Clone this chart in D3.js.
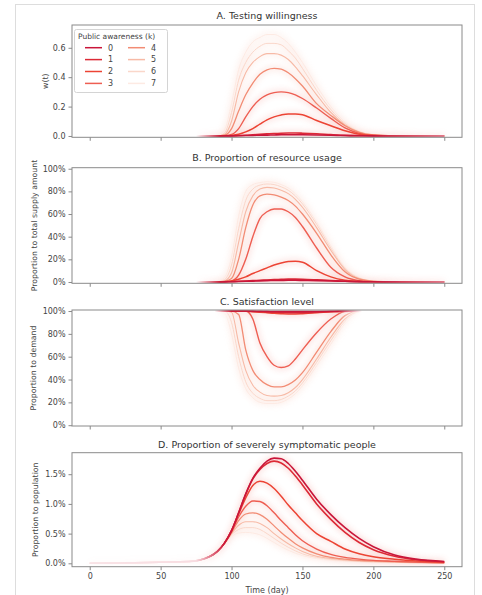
<!DOCTYPE html>
<html>
<head>
<meta charset="utf-8">
<script src="https://cdn.jsdelivr.net/npm/d3@7"></script>
<style>
  body { margin: 0; background: #fff; }
  svg { font-family: "DejaVu Sans", sans-serif; }
</style>
</head>
<body>
<svg id="chart" width="482" height="595"></svg>
<script>
// sample days shared by every series
const days = [0, 70, 85, 90, 95, 100, 105, 110, 115, 120, 125, 130, 135, 140, 145, 150, 160, 170, 180, 190, 200, 215, 230, 250];
const awareness = [0, 1, 2, 3, 4, 5, 6, 7];

// A. testing willingness w(t), one row per k
const willingness = [
  [0, 0, 0, 0, 0, 0.001, 0.002, 0.003, 0.004, 0.005, 0.006, 0.007, 0.008, 0.008, 0.008, 0.008, 0.007, 0.005, 0.003, 0.002, 0.001, 0, 0, 0],
  [0, 0, 0, 0, 0, 0.001, 0.003, 0.005, 0.008, 0.011, 0.014, 0.017, 0.019, 0.02, 0.02, 0.019, 0.015, 0.009, 0.004, 0.002, 0.001, 0, 0, 0],
  [0, 0, 0, 0, 0.001, 0.004, 0.012, 0.028, 0.05, 0.08, 0.11, 0.13, 0.143, 0.15, 0.15, 0.145, 0.105, 0.07, 0.035, 0.012, 0.004, 0.001, 0, 0],
  [0, 0, 0, 0, 0.002, 0.01, 0.05, 0.13, 0.2, 0.25, 0.28, 0.295, 0.3, 0.295, 0.28, 0.255, 0.19, 0.12, 0.055, 0.018, 0.005, 0.001, 0, 0],
  [0, 0, 0, 0, 0.005, 0.05, 0.17, 0.28, 0.36, 0.42, 0.45, 0.46, 0.455, 0.43, 0.39, 0.34, 0.22, 0.14, 0.07, 0.025, 0.007, 0.001, 0, 0],
  [0, 0, 0, 0, 0.01, 0.1, 0.3, 0.43, 0.5, 0.54, 0.56, 0.56, 0.55, 0.52, 0.47, 0.41, 0.28, 0.16, 0.075, 0.027, 0.008, 0.001, 0, 0],
  [0, 0, 0, 0, 0.02, 0.16, 0.38, 0.5, 0.57, 0.61, 0.63, 0.63, 0.62, 0.58, 0.53, 0.46, 0.31, 0.18, 0.085, 0.03, 0.009, 0.001, 0, 0],
  [0, 0, 0, 0.005, 0.04, 0.22, 0.45, 0.57, 0.64, 0.67, 0.69, 0.69, 0.67, 0.63, 0.57, 0.5, 0.34, 0.2, 0.095, 0.035, 0.01, 0.002, 0, 0]
];

// B. proportion of resource usage
const resourceUsage = [
  [0, 0, 0, 0, 0.001, 0.002, 0.004, 0.006, 0.008, 0.01, 0.012, 0.013, 0.014, 0.015, 0.015, 0.014, 0.012, 0.009, 0.006, 0.003, 0.002, 0.001, 0, 0],
  [0, 0, 0, 0, 0.001, 0.003, 0.006, 0.009, 0.012, 0.015, 0.018, 0.021, 0.023, 0.025, 0.025, 0.024, 0.019, 0.013, 0.007, 0.003, 0.002, 0.001, 0, 0],
  [0, 0, 0, 0, 0.002, 0.01, 0.025, 0.045, 0.075, 0.1, 0.125, 0.15, 0.168, 0.18, 0.183, 0.175, 0.1, 0.045, 0.015, 0.005, 0.002, 0, 0, 0],
  [0, 0, 0, 0, 0.002, 0.01, 0.06, 0.2, 0.4, 0.56, 0.62, 0.645, 0.645, 0.62, 0.57, 0.49, 0.3, 0.13, 0.045, 0.012, 0.003, 0, 0, 0],
  [0, 0, 0, 0, 0.005, 0.03, 0.2, 0.48, 0.68, 0.76, 0.775, 0.77, 0.75, 0.72, 0.67, 0.6, 0.43, 0.24, 0.09, 0.025, 0.006, 0.001, 0, 0],
  [0, 0, 0, 0, 0.01, 0.08, 0.35, 0.62, 0.76, 0.82, 0.835, 0.83, 0.81, 0.78, 0.73, 0.66, 0.48, 0.28, 0.11, 0.03, 0.008, 0.001, 0, 0],
  [0, 0, 0, 0.002, 0.02, 0.15, 0.47, 0.72, 0.82, 0.855, 0.865, 0.86, 0.84, 0.81, 0.76, 0.69, 0.51, 0.3, 0.12, 0.035, 0.009, 0.001, 0, 0],
  [0, 0, 0, 0.005, 0.04, 0.22, 0.58, 0.8, 0.86, 0.877, 0.885, 0.88, 0.86, 0.83, 0.78, 0.71, 0.53, 0.32, 0.13, 0.04, 0.01, 0.002, 0, 0]
];

// C. satisfaction level
const satisfaction = [
  [1, 1, 1, 1, 1, 1, 1, 1, 0.999, 0.998, 0.997, 0.996, 0.995, 0.995, 0.995, 0.995, 0.996, 0.998, 0.999, 1, 1, 1, 1, 1],
  [1, 1, 1, 1, 1, 1, 1, 0.999, 0.997, 0.995, 0.992, 0.99, 0.988, 0.986, 0.985, 0.986, 0.99, 0.995, 0.999, 1, 1, 1, 1, 1],
  [1, 1, 1, 1, 1, 1, 1, 0.998, 0.994, 0.99, 0.985, 0.98, 0.977, 0.975, 0.975, 0.977, 0.984, 0.993, 0.999, 1, 1, 1, 1, 1],
  [1, 1, 1, 1, 1, 1, 1, 1, 0.93, 0.72, 0.6, 0.525, 0.505, 0.52, 0.58, 0.66, 0.81, 0.93, 0.995, 1, 1, 1, 1, 1],
  [1, 1, 1, 1, 1, 1, 0.97, 0.66, 0.48, 0.4, 0.355, 0.335, 0.335, 0.355, 0.395, 0.46, 0.64, 0.82, 0.96, 1, 1, 1, 1, 1],
  [1, 1, 1, 1, 1, 0.99, 0.72, 0.48, 0.35, 0.29, 0.26, 0.255, 0.26, 0.285, 0.33, 0.4, 0.58, 0.77, 0.93, 0.995, 1, 1, 1, 1],
  [1, 1, 1, 1, 1, 0.9, 0.6, 0.38, 0.28, 0.235, 0.215, 0.215, 0.225, 0.255, 0.3, 0.37, 0.55, 0.74, 0.91, 0.99, 1, 1, 1, 1],
  [1, 1, 1, 1, 0.98, 0.8, 0.5, 0.32, 0.24, 0.2, 0.19, 0.19, 0.2, 0.23, 0.275, 0.345, 0.52, 0.71, 0.89, 0.98, 1, 1, 1, 1]
];

// D. proportion of severely symptomatic people
const severe = [
  [0, 0.0003, 0.0012, 0.002, 0.0034, 0.0055, 0.0085, 0.0117, 0.0143, 0.016, 0.0172, 0.0177, 0.0176, 0.0168, 0.0155, 0.014, 0.0108, 0.0082, 0.006, 0.0042, 0.0028, 0.0014, 0.0007, 0.0003],
  [0, 0.0003, 0.0012, 0.002, 0.0034, 0.0055, 0.0085, 0.0116, 0.0142, 0.0158, 0.0168, 0.0172, 0.0169, 0.016, 0.0147, 0.0132, 0.01, 0.0074, 0.0052, 0.0035, 0.0023, 0.0012, 0.0006, 0.00025],
  [0, 0.0003, 0.0012, 0.002, 0.0034, 0.0055, 0.0083, 0.011, 0.0131, 0.0138, 0.0135, 0.0126, 0.0113, 0.0098, 0.0085, 0.0072, 0.005, 0.0037, 0.0024, 0.0016, 0.0011, 0.0007, 0.0004, 0.0002],
  [0, 0.0003, 0.0012, 0.002, 0.0034, 0.0053, 0.0078, 0.0096, 0.0105, 0.0104, 0.0097, 0.0085, 0.0072, 0.006, 0.0048, 0.0038, 0.0024, 0.0015, 0.001, 0.0007, 0.0005, 0.00035, 0.0002, 0.0001],
  [0, 0.0003, 0.0012, 0.002, 0.0034, 0.0052, 0.0072, 0.0083, 0.0085, 0.0082, 0.0074, 0.0063, 0.0052, 0.0042, 0.0033, 0.0026, 0.0016, 0.001, 0.0007, 0.0005, 0.0004, 0.0003, 0.0002, 0.0001],
  [0, 0.0003, 0.0012, 0.002, 0.0033, 0.005, 0.0064, 0.007, 0.007, 0.0067, 0.006, 0.005, 0.0041, 0.0033, 0.0026, 0.002, 0.0012, 0.0008, 0.00055, 0.0004, 0.0003, 0.0002, 0.0001, 0.00005],
  [0, 0.0003, 0.0012, 0.002, 0.0032, 0.0048, 0.0057, 0.006, 0.006, 0.0057, 0.005, 0.0042, 0.0034, 0.0027, 0.0021, 0.0016, 0.001, 0.00065, 0.00045, 0.0003, 0.0002, 0.00015, 0.0001, 0.00005],
  [0, 0.0003, 0.0012, 0.002, 0.0031, 0.0045, 0.0051, 0.0052, 0.0051, 0.0048, 0.0042, 0.0035, 0.0028, 0.0022, 0.0017, 0.0013, 0.0008, 0.0005, 0.00035, 0.00025, 0.0002, 0.0001, 0.0001, 0.00005]
];

const xTicks = [0, 50, 100, 150, 200, 250];
const colors = ["#c9163a", "#dc2a36", "#ec4434", "#ee5e52", "#f28c74", "#f7baa6", "#fad7ca", "#fdeae3"];
const widths = [1.6, 1.6, 1.5, 1.4, 1.3, 1.1, 1, 1];

const svg = d3.select("#chart");

svg.append("rect")
  .attr("x", 15.5).attr("y", 4.5)
  .attr("width", 459).attr("height", 600)
  .attr("fill", "#fff").attr("stroke", "#ddd");

const defs = svg.append("defs");
defs.append("filter").attr("id", "glow")
  .attr("x", "-10%").attr("y", "-30%").attr("width", "120%").attr("height", "160%")
  .append("feGaussianBlur").attr("stdDeviation", 3);

const x = d3.scaleLinear().domain([-12.5, 262.5]).range([72, 462]);

// fade: [day, visibility] stops, the flat stretches of the photo are washed out
const panels = [
  { id: "a", title: "A. Testing willingness", titleY: 16, ylabel: "w(t)", labelX: 45,
    data: willingness, top: 25, bottom: 137.3, domain: [-0.009, 0.755],
    ticks: [0, 0.2, 0.4, 0.6], fmt: d3.format(".1f"),
    fade: [[-12.5, 0], [75, 0], [92, 1], [200, 1], [262.5, 0.5]] },
  { id: "b", title: "B. Proportion of resource usage", titleY: 158, ylabel: "Proportion to total supply amount", labelX: 34,
    data: resourceUsage, top: 167.7, bottom: 283.3, domain: [-0.0115, 1.009],
    ticks: [0, 0.2, 0.4, 0.6, 0.8, 1], fmt: d3.format(".0%"),
    fade: [[-12.5, 0], [75, 0], [92, 1], [200, 1], [262.5, 0.5]] },
  { id: "c", title: "C. Satisfaction level", titleY: 301.7, ylabel: "Proportion to demand", labelX: 33,
    data: satisfaction, top: 310, bottom: 426, domain: [-0.007, 1.009],
    ticks: [0, 0.2, 0.4, 0.6, 0.8, 1], fmt: d3.format(".0%"),
    fade: [[-12.5, 0], [88, 0], [100, 1], [175, 1], [192, 0], [262.5, 0]] },
  { id: "d", title: "D. Proportion of severely symptomatic people", titleY: 445, ylabel: "Proportion to population", labelX: 35,
    data: severe, top: 452.7, bottom: 566.7, domain: [-0.00057, 0.01862],
    ticks: [0, 0.005, 0.01, 0.015], fmt: d3.format(".1%"), xLabels: true,
    fade: [[-12.5, 0.12], [75, 0.15], [95, 1], [262.5, 1]] }
];

panels.forEach(p => {
  const y = d3.scaleLinear().domain(p.domain).range([p.bottom, p.top]);
  const g = svg.append("g");

  defs.append("clipPath").attr("id", "clip-" + p.id)
    .append("rect").attr("x", 72).attr("y", p.top)
    .attr("width", 390).attr("height", p.bottom - p.top);

  const grad = defs.append("linearGradient").attr("id", "fade-" + p.id)
    .attr("gradientUnits", "userSpaceOnUse")
    .attr("x1", 72).attr("x2", 462).attr("y1", 0).attr("y2", 0);
  grad.selectAll("stop").data(p.fade).enter().append("stop")
    .attr("offset", d => (x(d[0]) - 72) / 390)
    .attr("stop-color", "#fff")
    .attr("stop-opacity", d => d[1]);
  defs.append("mask").attr("id", "mask-" + p.id)
    .attr("maskUnits", "userSpaceOnUse")
    .attr("x", 60).attr("y", p.top - 10).attr("width", 410).attr("height", p.bottom - p.top + 20)
    .append("rect").attr("x", 60).attr("y", p.top - 10)
    .attr("width", 410).attr("height", p.bottom - p.top + 20)
    .attr("fill", `url(#fade-${p.id})`);

  const line = d3.line()
    .x((d, i) => x(days[i]))
    .y(d => y(d))
    .curve(d3.curveMonotoneX);

  const order = awareness.slice().reverse();
  const plot = g.append("g").attr("clip-path", `url(#clip-${p.id})`)
    .append("g").attr("mask", `url(#mask-${p.id})`);

  // soft halo behind curves
  plot.append("g").attr("filter", "url(#glow)").attr("opacity", 0.22)
    .selectAll("path").data(order).enter().append("path")
    .attr("d", k => line(p.data[k]))
    .attr("fill", "none")
    .attr("stroke", k => colors[Math.min(Math.max(k, 3), 5)])
    .attr("stroke-width", 4);

  plot.append("g").selectAll("path").data(order).enter().append("path")
    .attr("d", k => line(p.data[k]))
    .attr("fill", "none")
    .attr("stroke", k => colors[k])
    .attr("stroke-width", k => widths[k]);

  g.append("rect")
    .attr("x", 72).attr("y", p.top)
    .attr("width", 390).attr("height", p.bottom - p.top)
    .attr("fill", "none").attr("stroke", "#8a8a8a").attr("stroke-width", 1);

  const yAxis = g.append("g").attr("transform", "translate(72,0)")
    .call(d3.axisLeft(y).tickValues(p.ticks).tickFormat(p.fmt).tickSize(3.5).tickPadding(3));
  const xAxis = g.append("g").attr("transform", `translate(0,${p.bottom})`)
    .call(d3.axisBottom(x).tickValues(xTicks).tickSize(3.5).tickPadding(3)
      .tickFormat(p.xLabels ? d3.format("d") : ""));

  [yAxis, xAxis].forEach(a => {
    a.select(".domain").remove();
    a.selectAll(".tick line").attr("stroke", "#8a8a8a");
    a.selectAll("text").attr("fill", "#444").style("font-size", "8px")
      .style("font-family", "DejaVu Sans, sans-serif");
  });

  g.append("text")
    .attr("x", 267).attr("y", p.titleY).attr("dy", "0.35em")
    .attr("text-anchor", "middle").attr("fill", "#333")
    .style("font-size", "9.5px").text(p.title);

  g.append("text")
    .attr("transform", `translate(${p.labelX},${(p.top + p.bottom) / 2}) rotate(-90)`)
    .attr("dy", "0.35em").attr("text-anchor", "middle").attr("fill", "#444")
    .style("font-size", "7.8px").text(p.ylabel);
});

svg.append("text")
  .attr("x", 267).attr("y", 590).attr("dy", "0.35em")
  .attr("text-anchor", "middle").attr("fill", "#444")
  .style("font-size", "8px").text("Time (day)");

// legend
const legend = svg.append("g");
legend.append("rect")
  .attr("x", 74.5).attr("y", 29.5).attr("width", 93).attr("height", 63).attr("rx", 2)
  .attr("fill", "#fff").attr("fill-opacity", 0.85).attr("stroke", "#d4d4d4");
legend.append("text")
  .attr("x", 78).attr("y", 36).attr("dy", "0.35em").attr("fill", "#444")
  .style("font-size", "7.5px").text("Public awareness (k)");

const item = legend.selectAll("g.item").data(awareness).enter().append("g")
  .attr("class", "item")
  .attr("transform", k => `translate(${k < 4 ? 85 : 128},${47.7 + (k % 4) * 11.9})`);
item.append("line")
  .attr("x1", 0).attr("x2", 17)
  .attr("stroke", k => colors[k]).attr("stroke-width", 1.5);
item.append("text")
  .attr("x", 23).attr("dy", "0.35em").attr("fill", "#444")
  .style("font-size", "8px").text(k => k);
</script>
</body>
</html>
